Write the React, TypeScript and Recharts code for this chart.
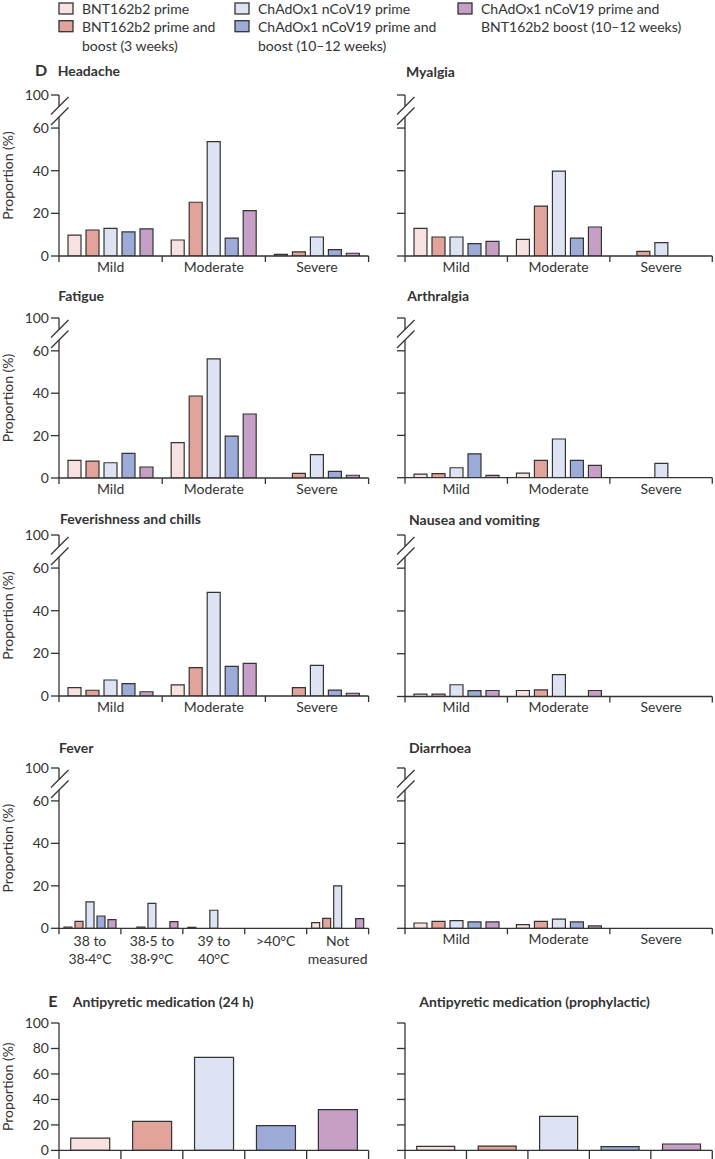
import React from 'react';
import { BarChart, Bar, XAxis, YAxis, Cell } from 'recharts';

const INK = '#333333';
const FONT = 'Lato, "Open Sans", sans-serif';

// groups, in legend order
const groups = [
  'BNT162b2 prime',
  'BNT162b2 prime and boost (3 weeks)',
  'ChAdOx1 nCoV19 prime',
  'ChAdOx1 nCoV19 prime and boost (10–12 weeks)',
  'ChAdOx1 nCoV19 prime and BNT162b2 boost (10–12 weeks)',
];
const groupColors = ['#f7e1e1', '#e2a39b', '#dde3f3', '#9cabd7', '#c59fc5'];

// category labels (one entry per line)
const severity = [['Mild'], ['Moderate'], ['Severe']];
const feverBands = [['38 to', '38·4°C'], ['38·5 to', '38·9°C'], ['39 to', '40°C'], ['>40°C'], ['Not', 'measured']];

// proportion (%) per category, one value per group
const headache = [[9.8, 12.2, 13, 11.3, 12.7], [7.5, 25.2, 53.6, 8.4, 21.3], [0.8, 1.9, 8.9, 3, 1.3]];
const myalgia = [[13, 8.9, 8.9, 5.8, 6.9], [7.8, 23.4, 39.8, 8.4, 13.6], [0, 2.2, 6.3, 0, 0]];
const fatigue = [[8.3, 8, 7.2, 11.6, 5.2], [16.7, 38.7, 56.2, 19.8, 30.2], [0, 2.2, 11, 3.1, 1.3]];
const arthralgia = [[1.7, 1.9, 4.7, 11.3, 1.1], [2.2, 8.2, 18.3, 8.2, 5.8], [0, 0, 6.8, 0, 0]];
const feverishness = [[3.9, 2.7, 7.5, 5.8, 2], [5.2, 13.3, 48.6, 13.9, 15.3], [0, 3.9, 14.4, 2.8, 1.3]];
const nausea = [[1.1, 1.1, 5.5, 2.7, 2.8], [2.8, 3.1, 10.2, 0, 2.8], [0, 0, 0, 0, 0]];
const fever = [[0.6, 3.3, 12.4, 5.8, 4.1], [0, 0.6, 11.7, 0, 3.1], [0.5, 0, 8.5, 0, 0], [0, 0, 0, 0, 0], [2.7, 4.7, 20, 0, 4.6]];
const diarrhoea = [[2.5, 3.3, 3.6, 3, 3], [1.7, 3.3, 4.3, 3, 1.1], [0, 0, 0, 0, 0]];
const antipyretic24h = [9.7, 22.8, 73, 19.4, 32];
const antipyreticProphylactic = [3.1, 3.4, 26.7, 3, 5];

// broken axis: the top tick stands for 100
const brokenTop = 75.5;
const brokenTicks = [0, 20, 40, 60, 75.5];
const fullTicks = [0, 20, 40, 60, 80, 100];

const YW = 60;
const MT = 10;
const MR = 4;

const LEFT = { axisX: 58.7, xEnd: 368.3 };
const RIGHT = { axisX: 405, xEnd: 712.3 };

const BandTick = (props: any) => {
  const { x, y, payload, index, band, cats, tickDown, firstLine, showText } = props;
  const half = band / 2;
  const i = typeof index === 'number' ? index : payload?.index ?? 0;
  const lines: string[] = cats ? cats[i] || [] : [];
  const isLast = i === props.count - 1;
  return (
    <g>
      <line x1={x - half} x2={x - half} y1={y} y2={y + tickDown} stroke={INK} strokeWidth={1.3} />
      {isLast && <line x1={x + half} x2={x + half} y1={y} y2={y + tickDown} stroke={INK} strokeWidth={1.3} />}
      {showText &&
        lines.map((l, k) => (
          <text key={k} x={x} y={y + firstLine + k * 18} textAnchor="middle" fill={INK} fontSize={14} fontFamily={FONT}>
            {l}
          </text>
        ))}
    </g>
  );
};

const NoTick = () => <g />;

const YLabel = ({ plotH }: { plotH: number }) => (
  <text
    x={YW - 51.2}
    y={MT + plotH / 2}
    transform={`rotate(-90 ${YW - 51.2} ${MT + plotH / 2})`}
    textAnchor="middle"
    dominantBaseline="central"
    fill={INK}
    fontSize={14}
    fontFamily={FONT}
  >
    Proportion (%)
  </text>
);

type SymptomProps = {
  cats: string[][];
  values: number[][];
  col: { axisX: number; xEnd: number };
  y100: number;
  y0: number;
  showY: boolean;
  barGap: number;
  catGap: number;
  firstLine: number;
};

const SymptomPanel: React.FC<SymptomProps> = ({ cats, values, col, y100, y0, showY, barGap, catGap, firstLine }) => {
  const plotW = col.xEnd - col.axisX;
  const plotH = y0 - y100;
  const XH = 46;
  const width = YW + plotW + MR;
  const height = MT + plotH + XH;
  const band = plotW / cats.length;
  const data = cats.map((lines, i) => {
    const row: any = { name: lines.join(' ') };
    values[i].forEach((v, g) => (row['g' + g] = v));
    return row;
  });

  return (
    <div style={{ position: 'absolute', left: col.axisX - YW, top: y100 - MT, width, height }}>
      <BarChart width={width} height={height} data={data} margin={{ top: MT, right: MR, left: 0, bottom: 0 }} barGap={barGap} barCategoryGap={catGap}>
        <XAxis
          dataKey="name"
          height={XH}
          interval={0}
          tickLine={false}
          tickSize={0}
          tickMargin={0}
          axisLine={{ stroke: INK, strokeWidth: 1.3 }}
          tick={(p: any) => <BandTick {...p} band={band} cats={cats} count={cats.length} tickDown={6} firstLine={firstLine} showText />}
        />
        <YAxis
          width={YW}
          domain={[0, brokenTop]}
          ticks={brokenTicks}
          allowDataOverflow
          axisLine={false}
          tickSize={8}
          tickMargin={2}
          tickLine={{ stroke: INK, strokeWidth: 1.3 }}
          tick={showY ? { fill: INK, fontSize: 14, fontFamily: FONT } : NoTick}
          tickFormatter={(v: number) => (v === brokenTop ? '100' : String(v))}
        />
        {groups.map((g, i) => (
          <Bar key={g} dataKey={'g' + i} fill={groupColors[i]} stroke={INK} strokeWidth={1.2} isAnimationActive={false} />
        ))}
      </BarChart>
      <svg width={width} height={height} style={{ position: 'absolute', left: 0, top: 0, pointerEvents: 'none' }}>
        <g stroke={INK} strokeWidth={1.3} fill="none">
          <line x1={YW} y1={MT} x2={YW} y2={MT + 11.5} />
          <line x1={YW - 8} y1={MT + 19.5} x2={YW + 9.5} y2={MT + 2} />
          <line x1={YW - 8} y1={MT + 30} x2={YW + 9.5} y2={MT + 12.5} />
          <line x1={YW} y1={MT + 22} x2={YW} y2={MT + plotH} />
        </g>
        {showY && <YLabel plotH={plotH} />}
      </svg>
    </div>
  );
};

const MedicationPanel: React.FC<{ values: number[]; col: { axisX: number; xEnd: number }; showY: boolean }> = ({ values, col, showY }) => {
  const y100 = 1023.3;
  const y0 = 1150.7;
  const plotW = col.xEnd - col.axisX;
  const plotH = y0 - y100;
  const XH = 12;
  const width = YW + plotW + MR;
  const height = MT + plotH + XH;
  const band = plotW / groups.length;
  const data = groups.map((g, i) => ({ name: g, value: values[i] }));

  return (
    <div style={{ position: 'absolute', left: col.axisX - YW, top: y100 - MT, width, height }}>
      <BarChart width={width} height={height} data={data} margin={{ top: MT, right: MR, left: 0, bottom: 0 }} barCategoryGap={11.7}>
        <XAxis
          dataKey="name"
          height={XH}
          interval={0}
          tickLine={false}
          tickSize={0}
          tickMargin={0}
          axisLine={{ stroke: INK, strokeWidth: 1.3 }}
          tick={(p: any) => <BandTick {...p} band={band} cats={null} count={groups.length} tickDown={10} firstLine={0} showText={false} />}
        />
        <YAxis
          width={YW}
          domain={[0, 100]}
          ticks={fullTicks}
          axisLine={{ stroke: INK, strokeWidth: 1.3 }}
          tickSize={8}
          tickMargin={2}
          tickLine={{ stroke: INK, strokeWidth: 1.3 }}
          tick={showY ? { fill: INK, fontSize: 14, fontFamily: FONT } : NoTick}
        />
        <Bar dataKey="value" stroke={INK} strokeWidth={1.2} isAnimationActive={false}>
          {data.map((d, i) => (
            <Cell key={d.name} fill={groupColors[i]} />
          ))}
        </Bar>
      </BarChart>
      {showY && (
        <svg width={width} height={height} style={{ position: 'absolute', left: 0, top: 0, pointerEvents: 'none' }}>
          <YLabel plotH={plotH} />
        </svg>
      )}
    </div>
  );
};

// legend: baselines of the three text lines
const legendLineY = [13.8, 31.5, 50.8];
const legendItems = [
  { x: 59, row: 0, group: 0, lines: ['BNT162b2 prime'] },
  { x: 59, row: 1, group: 1, lines: ['BNT162b2 prime and', 'boost (3 weeks)'] },
  { x: 235, row: 0, group: 2, lines: ['ChAdOx1 nCoV19 prime'] },
  { x: 235, row: 1, group: 3, lines: ['ChAdOx1 nCoV19 prime and', 'boost (10–12 weeks)'] },
  { x: 458, row: 0, group: 4, lines: ['ChAdOx1 nCoV19 prime and', 'BNT162b2 boost (10–12 weeks)'] },
];

const titles = [
  { x: 57.7, y: 76.3, text: 'Headache' },
  { x: 406, y: 76.7, text: 'Myalgia' },
  { x: 58.3, y: 300.7, text: 'Fatigue' },
  { x: 407.3, y: 300.7, text: 'Arthralgia' },
  { x: 60, y: 524, text: 'Feverishness and chills' },
  { x: 409, y: 525, text: 'Nausea and vomiting' },
  { x: 59, y: 752.7, text: 'Fever' },
  { x: 409, y: 752.7, text: 'Diarrhoea' },
  { x: 72.7, y: 1006.7, text: 'Antipyretic medication (24 h)' },
  { x: 419.3, y: 1006.7, text: 'Antipyretic medication (prophylactic)' },
];

export default function App() {
  return (
    <div style={{ position: 'absolute', left: 0, top: 0, width: 715, height: 1159, overflow: 'hidden', background: '#fff', fontFamily: FONT }}>
      <svg width={715} height={1159} style={{ position: 'absolute', left: 0, top: 0 }}>
        {legendItems.map((it) => (
          <g key={it.group}>
            <rect x={it.x} y={legendLineY[it.row] - 10.8} width={14} height={11} fill={groupColors[it.group]} stroke={INK} strokeWidth={1.3} />
            {it.lines.map((l, k) => (
              <text key={k} x={it.x + 23} y={legendLineY[it.row + k]} fill={INK} fontSize={14} fontFamily={FONT}>
                {l}
              </text>
            ))}
          </g>
        ))}
        <text x={35} y={76.3} fill={INK} fontSize={16} fontWeight={700} fontFamily={FONT}>D</text>
        <text x={48.3} y={1006.7} fill={INK} fontSize={16} fontWeight={700} fontFamily={FONT}>E</text>
        {titles.map((t) => (
          <text key={t.text} x={t.x} y={t.y} fill={INK} fontSize={14} fontWeight={700} fontFamily={FONT}>
            {t.text}
          </text>
        ))}
      </svg>

      <SymptomPanel cats={severity} values={headache} col={LEFT} y100={95} y0={256} showY barGap={5} catGap={9} firstLine={16} />
      <SymptomPanel cats={severity} values={myalgia} col={RIGHT} y100={95} y0={256} showY={false} barGap={5} catGap={9} firstLine={16} />
      <SymptomPanel cats={severity} values={fatigue} col={LEFT} y100={318.3} y0={478.3} showY barGap={5} catGap={9} firstLine={16} />
      <SymptomPanel cats={severity} values={arthralgia} col={RIGHT} y100={318.3} y0={478} showY={false} barGap={5} catGap={9} firstLine={16} />
      <SymptomPanel cats={severity} values={feverishness} col={LEFT} y100={535} y0={696} showY barGap={5} catGap={9} firstLine={16} />
      <SymptomPanel cats={severity} values={nausea} col={RIGHT} y100={535} y0={696.5} showY={false} barGap={5} catGap={9} firstLine={16} />
      <SymptomPanel cats={feverBands} values={fever} col={LEFT} y100={767.7} y0={928} showY barGap={3} catGap={5} firstLine={18} />
      <SymptomPanel cats={severity} values={diarrhoea} col={RIGHT} y100={767.7} y0={928} showY={false} barGap={5} catGap={9} firstLine={16} />

      <MedicationPanel values={antipyretic24h} col={LEFT} showY />
      <MedicationPanel values={antipyreticProphylactic} col={RIGHT} showY={false} />
    </div>
  );
}
